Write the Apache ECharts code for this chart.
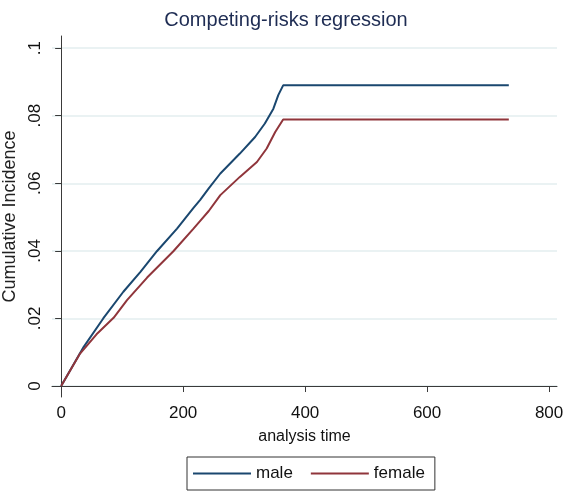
<!DOCTYPE html>
<html>
<head>
<meta charset="utf-8">
<script src="https://cdn.jsdelivr.net/npm/echarts@6/dist/echarts.min.js"></script>
<style>
  html, body { margin: 0; padding: 0; background: #fff; }
  #chart { width: 572px; height: 493px; }
</style>
</head>
<body>
<div id="chart"></div>
<script>
// values
var maleTime   = [0, 9, 37, 69, 102, 130, 157, 190, 217, 228, 242, 261, 293, 318, 334, 348, 356, 364, 734];
var maleCif    = [0, 0.0028, 0.0116, 0.0200, 0.0279, 0.0338, 0.0399, 0.0466, 0.0527, 0.0551, 0.0585, 0.0629, 0.0688, 0.0737, 0.0777, 0.0821, 0.0861, 0.0890, 0.0890];
var femaleTime = [0, 31, 58, 86, 108, 141, 184, 217, 228, 242, 261, 293, 321, 337, 351, 364, 734];
var femaleCif  = [0, 0.0096, 0.0153, 0.0202, 0.0254, 0.0321, 0.0399, 0.0466, 0.0489, 0.0518, 0.0565, 0.0619, 0.0663, 0.0703, 0.0752, 0.0789, 0.0789];
var xTicks = [0, 200, 400, 600, 800];
var yTicks = [0, 0.02, 0.04, 0.06, 0.08, 0.1];

function pairs(xs, ys) {
  return xs.map(function (x, i) { return [x, ys[i]]; });
}

var sans = '"Liberation Sans", Arial, sans-serif';
var axisColor = '#3a3a3a';

var chart = echarts.init(document.getElementById('chart'));
var option = {
  animation: false,
  title: {
    text: 'Competing-risks regression',
    left: 'center',
    top: 5,
    textStyle: { fontFamily: sans, fontSize: 20, fontWeight: 'normal', color: '#1e2c53' }
  },
  grid: { left: 52, right: 15, top: 36, bottom: 96, containLabel: false, outerBoundsMode: 'none' },
  legend: {
    left: 187, top: 457,
    padding: [8, 10, 8, 6],
    borderColor: '#333', borderWidth: 1,
    icon: 'rect',
    itemWidth: 58, itemHeight: 2, itemGap: 18,
    textStyle: { fontFamily: sans, fontSize: 17, color: '#111' },
    data: ['male', 'female']
  },
  xAxis: {
    type: 'value',
    min: -15, max: 813,
    name: 'analysis time',
    nameLocation: 'middle',
    nameGap: 32,
    nameTextStyle: { fontFamily: sans, fontSize: 16, color: '#111' },
    axisLine: { lineStyle: { color: axisColor, width: 1 } },
    axisTick: { customValues: xTicks, length: 6, lineStyle: { color: axisColor } },
    axisLabel: { customValues: xTicks, fontFamily: sans, fontSize: 17, color: '#111', margin: 8 },
    splitLine: { show: false }
  },
  yAxis: {
    type: 'value',
    min: -0.00325, max: 0.1036,
    name: 'Cumulative Incidence',
    nameLocation: 'middle',
    nameGap: 33,
    nameTextStyle: { fontFamily: sans, fontSize: 18, color: '#222' },
    axisLine: { show: true, lineStyle: { color: axisColor, width: 1 } },
    axisTick: { show: true, customValues: yTicks, length: 6, lineStyle: { color: axisColor } },
    axisLabel: {
      customValues: yTicks, rotate: 90, margin: 8,
      fontFamily: sans, fontSize: 17, color: '#111',
      formatter: function (v) { return v === 0 ? '0' : String(+v.toFixed(2)).replace(/^0/, ''); }
    },
    splitLine: { show: true, lineStyle: { color: '#eaf2f3', width: 2 } }
  },
  series: [
    {
      name: 'male', type: 'line', symbol: 'none',
      lineStyle: { color: '#1a476f', width: 2 }, itemStyle: { color: '#1a476f' },
      data: pairs(maleTime, maleCif)
    },
    {
      name: 'female', type: 'line', symbol: 'none',
      lineStyle: { color: '#90353b', width: 2 }, itemStyle: { color: '#90353b' },
      data: pairs(femaleTime, femaleCif)
    }
  ]
};
chart.setOption(option);
</script>
</body>
</html>
